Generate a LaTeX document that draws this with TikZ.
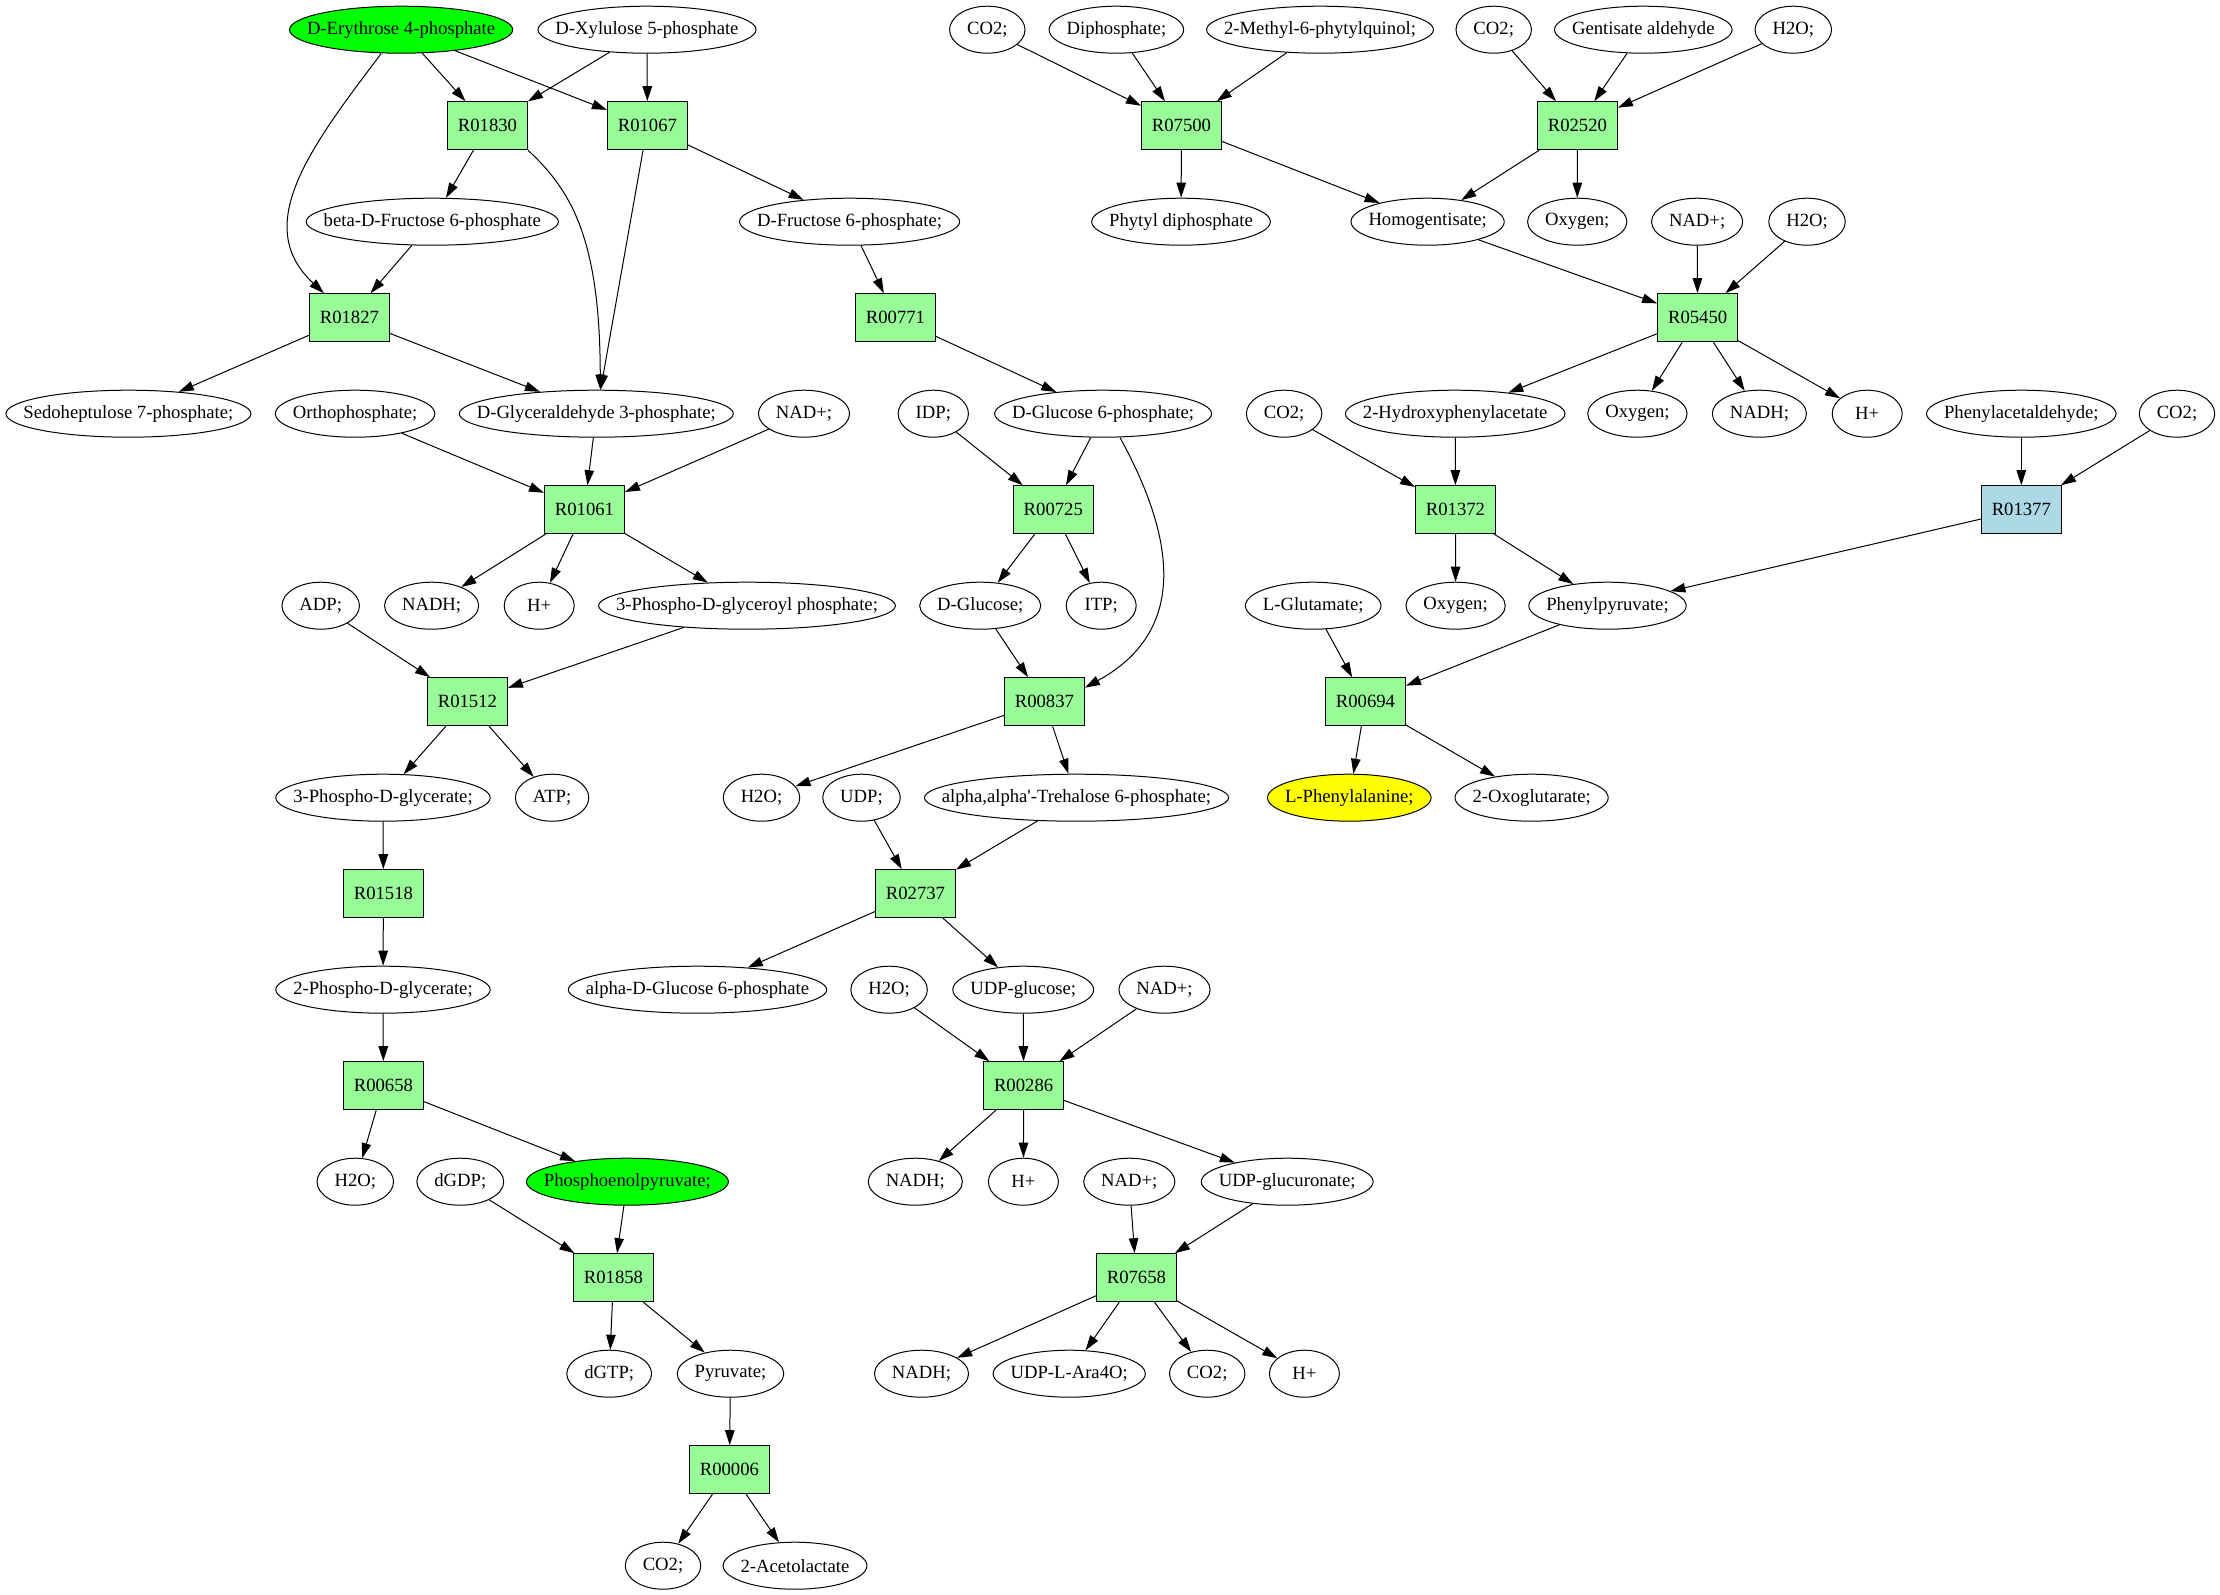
\documentclass[tikz,border=0pt]{standalone}
\usepackage{fontspec}
\setmainfont{Liberation Serif}[Ligatures=TeXOff]
\usetikzlibrary{shapes.geometric,arrows.meta}
\definecolor{rxgreen}{HTML}{98FB98}
\definecolor{rxblue}{HTML}{ADD8E6}
\definecolor{srcgreen}{HTML}{00FF00}
\definecolor{tgtyellow}{HTML}{FFFF00}
\newcommand\metfont{\fontsize{18.67}{22}\selectfont}
\font\metfnt="Liberation Serif" at 18.67pt
\newdimen\metw
\newcommand\met[4][]{%
  \setbox0=\hbox{\metfnt #4}%
  \metw=\wd0
  \advance\metw by 35pt
  \ifdim\metw<70pt\relax\metw=70pt\fi
  \edef\metwd{\the\metw}%
  \node[metab,minimum width=\metwd,#1] (#2) at (#3) {\makebox[0pt]{#4}};}
\tikzset{
  metab/.style={ellipse,draw,line width=1pt,inner sep=0pt,minimum height=47pt,font=\metfont},
  rxn/.style={rectangle,draw,line width=1pt,fill=rxgreen,minimum width=80pt,minimum height=48pt,inner sep=0pt,font=\metfont},
  arr/.style={-{Triangle[length=15pt,width=9.5pt]},line width=1pt},
  srcnode/.style={fill=srcgreen},
  tgtnode/.style={fill=tgtyellow}
}
\begin{document}
\begin{tikzpicture}[x=1pt,y=-1pt]
\fill[white] (0,0) rectangle (2220,1595);
\useasboundingbox (0,0) rectangle (2220,1595);
% row 1
\met[srcnode]{ery}{401.1,29.7}{D-Erythrose 4-phosphate}
\met{xyl}{647,29.7}{D-Xylulose 5-phosphate}
\met{co2a}{987.3,29.7}{CO2;}
\met{diph}{1116.4,29.7}{Diphosphate;}
\met{mpq}{1320,29.7}{2-Methyl-6-phytylquinol;}
\met{co2b}{1493.7,29.7}{CO2;}
\met{gald}{1643.3,29.7}{Gentisate aldehyde}
\met{h2oa}{1793.3,29.7}{H2O;}
% row 2
\node[rxn] (r01830) at (487.5,125.7) {R01830};
\node[rxn] (r01067) at (647.4,125.7) {R01067};
\node[rxn] (r07500) at (1181.5,125.7) {R07500};
\node[rxn] (r02520) at (1577.4,125.7) {R02520};
% row 3
\met{bfru}{432.3,221.7}{beta-D-Fructose 6-phosphate}
\met{dfru}{849.6,221.7}{D-Fructose 6-phosphate;}
\met{phyt}{1181,221.7}{Phytyl diphosphate}
\met{homo}{1427.6,221.7}{Homogentisate;}
\met{oxya}{1577.2,221.7}{Oxygen;}
\met{nada}{1697.1,221.7}{NAD+;}
\met{h2ob}{1807,221.7}{H2O;}
% row 4
\node[rxn] (r01827) at (349.4,317.7) {R01827};
\node[rxn] (r00771) at (895.5,317.7) {R00771};
\node[rxn] (r05450) at (1697.6,317.7) {R05450};
% row 5
\met{sedo}{128.4,413.7}{Sedoheptulose 7-phosphate;}
\met{orth}{355.1,413.7}{Orthophosphate;}
\met{gap}{596.3,413.7}{D-Glyceraldehyde 3-phosphate;}
\met{nadb}{804,413.7}{NAD+;}
\met{idp}{933.3,413.7}{IDP;}
\met{g6p}{1103.1,413.7}{D-Glucose 6-phosphate;}
\met{co2c}{1284.1,413.7}{CO2;}
\met{hpa}{1455.2,413.7}{2-Hydroxyphenylacetate}
\met{oxyb}{1637.4,413.7}{Oxygen;}
\met{nadha}{1759.4,413.7}{NADH;}
\met{ha}{1867.2,413.7}{H+}
\met{pacet}{2021.3,413.7}{Phenylacetaldehyde;}
\met{co2d}{2177,413.7}{CO2;}
% row 6
\node[rxn] (r01061) at (584.5,509.7) {R01061};
\node[rxn] (r00725) at (1053.3,509.7) {R00725};
\node[rxn] (r01372) at (1455.5,509.7) {R01372};
\node[rxn,fill=rxblue] (r01377) at (2021.3,509.7) {R01377};
% row 7
\met{adp}{320.7,605.7}{ADP;}
\met{nadhb}{431.6,605.7}{NADH;}
\met{hb}{539.2,605.7}{H+}
\met{bpg}{747,605.7}{3-Phospho-D-glyceroyl phosphate;}
\met{glc}{980.2,605.7}{D-Glucose;}
\met{itp}{1101.2,605.7}{ITP;}
\met{glu}{1313.2,605.7}{L-Glutamate;}
\met{oxyc}{1455.6,605.7}{Oxygen;}
\met{ppyr}{1607.5,605.7}{Phenylpyruvate;}
% row 8
\node[rxn] (r01512) at (467.4,701.7) {R01512};
\node[rxn] (r00837) at (1044.4,701.7) {R00837};
\node[rxn] (r00694) at (1365.5,701.7) {R00694};
% row 9
\met{pg3}{383,797.7}{3-Phospho-D-glycerate;}
\met{atp}{552.1,797.7}{ATP;}
\met{h2oc}{761.5,797.7}{H2O;}
\met{udp}{861.5,797.7}{UDP;}
\met{t6p}{1076.5,797.7}{alpha,alpha'-Trehalose 6-phosphate;}
\met[tgtnode]{phe}{1349.3,797.7}{L-Phenylalanine;}
\met{akg}{1531.6,797.7}{2-Oxoglutarate;}
% row 10
\node[rxn] (r01518) at (383.4,893.7) {R01518};
\node[rxn] (r02737) at (915.5,893.7) {R02737};
% row 11
\met{pg2}{383,989.7}{2-Phospho-D-glycerate;}
\met{ag6p}{697.5,989.7}{alpha-D-Glucose 6-phosphate}
\met{h2od}{889.1,989.7}{H2O;}
\met{udpg}{1023.2,989.7}{UDP-glucose;}
\met{nadc}{1164.5,989.7}{NAD+;}
% row 12
\node[rxn] (r00658) at (383.4,1085.7) {R00658};
\node[rxn] (r00286) at (1023.6,1085.7) {R00286};
% row 13
\met{h2oe}{355.3,1181.7}{H2O;}
\met{dgdp}{460.3,1181.7}{dGDP;}
\met[srcnode]{pep}{627.4,1181.7}{Phosphoenolpyruvate;}
\met{nadhc}{915.3,1181.7}{NADH;}
\met{hc}{1023.4,1181.7}{H+}
\met{nadd}{1129.3,1181.7}{NAD+;}
\met{udpga}{1287.2,1181.7}{UDP-glucuronate;}
% row 14
\node[rxn] (r01858) at (613.5,1277.7) {R01858};
\node[rxn] (r07658) at (1136.4,1277.7) {R07658};
% row 15
\met{dgtp}{609.2,1373.7}{dGTP;}
\met{pyr}{730.5,1373.7}{Pyruvate;}
\met{nadhd}{921.5,1373.7}{NADH;}
\met{ara}{1069.2,1373.7}{UDP-L-Ara4O;}
\met{co2e}{1207.2,1373.7}{CO2;}
\met{hd}{1304.4,1373.7}{H+}
% row 16
\node[rxn] (r00006) at (729.4,1469.7) {R00006};
% row 17
\met{co2f}{663,1565.7}{CO2;}
\met{acl}{795,1565.7}{2-Acetolactate}
% edges
\draw[arr] (ery) -- (r01830);
\draw[arr] (ery) -- (r01067);
\draw[arr] ([xshift=-20pt]ery.south) .. controls (308,150) and (252,226) .. ([xshift=15pt]r01827.north west);
\draw[arr] (xyl) -- (r01830);
\draw[arr] (xyl) -- (r01067);
\draw[arr] (r01830) -- (bfru);
\draw[arr] (r01830.south east) .. controls (572,191) and (600,240) .. ([xshift=4pt]gap.north);
\draw[arr] (r01067) -- (gap);
\draw[arr] (r01067) -- (dfru);
\draw[arr] (bfru) -- (r01827);
\draw[arr] (r01827) -- (sedo);
\draw[arr] (r01827) -- (gap);
\draw[arr] (orth) -- (r01061);
\draw[arr] (gap) -- (r01061);
\draw[arr] (nadb) -- (r01061);
\draw[arr] (r01061) -- (nadhb);
\draw[arr] (r01061) -- (hb);
\draw[arr] (r01061) -- (bpg);
\draw[arr] (adp) -- (r01512);
\draw[arr] (bpg) -- (r01512);
\draw[arr] (r01512) -- (pg3);
\draw[arr] (r01512) -- (atp);
\draw[arr] (pg3) -- (r01518);
\draw[arr] (r01518) -- (pg2);
\draw[arr] (pg2) -- (r00658);
\draw[arr] (r00658) -- (h2oe);
\draw[arr] (r00658) -- (pep);
\draw[arr] (dgdp) -- (r01858);
\draw[arr] (pep) -- (r01858);
\draw[arr] (r01858) -- (dgtp);
\draw[arr] (r01858) -- (pyr);
\draw[arr] (pyr) -- (r00006);
\draw[arr] (r00006) -- (co2f);
\draw[arr] (r00006) -- (acl);
\draw[arr] (dfru) -- (r00771);
\draw[arr] (r00771) -- (g6p);
\draw[arr] (idp) -- (r00725);
\draw[arr] (g6p) -- (r00725);
\draw[arr] ([xshift=17pt]g6p.south) .. controls (1182.4,551.4) and (1180.7,635.2) .. ([yshift=14pt]r00837.east);
\draw[arr] (r00725) -- (glc);
\draw[arr] (r00725) -- (itp);
\draw[arr] (glc) -- (r00837);
\draw[arr] (r00837) -- (h2oc);
\draw[arr] (r00837) -- (t6p);
\draw[arr] (udp) -- (r02737);
\draw[arr] (t6p) -- (r02737);
\draw[arr] (r02737) -- (ag6p);
\draw[arr] (r02737) -- (udpg);
\draw[arr] (h2od) -- (r00286);
\draw[arr] (udpg) -- (r00286);
\draw[arr] (nadc) -- (r00286);
\draw[arr] (r00286) -- (nadhc);
\draw[arr] (r00286) -- (hc);
\draw[arr] (r00286) -- (udpga);
\draw[arr] (nadd) -- (r07658);
\draw[arr] (udpga) -- (r07658);
\draw[arr] (r07658) -- (nadhd);
\draw[arr] (r07658) -- (ara);
\draw[arr] (r07658) -- (co2e);
\draw[arr] (r07658) -- (hd);
\draw[arr] (co2a) -- (r07500);
\draw[arr] (diph) -- (r07500);
\draw[arr] (mpq) -- (r07500);
\draw[arr] (r07500) -- (phyt);
\draw[arr] (r07500) -- (homo);
\draw[arr] (co2b) -- (r02520);
\draw[arr] (gald) -- (r02520);
\draw[arr] (h2oa) -- (r02520);
\draw[arr] (r02520) -- (homo);
\draw[arr] (r02520) -- (oxya);
\draw[arr] (homo) -- (r05450);
\draw[arr] (nada) -- (r05450);
\draw[arr] (h2ob) -- (r05450);
\draw[arr] (r05450) -- (hpa);
\draw[arr] (r05450) -- (oxyb);
\draw[arr] (r05450) -- (nadha);
\draw[arr] (r05450) -- (ha);
\draw[arr] (co2c) -- (r01372);
\draw[arr] (hpa) -- (r01372);
\draw[arr] (r01372) -- (oxyc);
\draw[arr] (r01372) -- (ppyr);
\draw[arr] (pacet) -- (r01377);
\draw[arr] (co2d) -- (r01377);
\draw[arr] (r01377) -- (ppyr);
\draw[arr] (glu) -- (r00694);
\draw[arr] (ppyr) -- (r00694);
\draw[arr] (r00694) -- (phe);
\draw[arr] (r00694) -- (akg);
\end{tikzpicture}
\end{document}
